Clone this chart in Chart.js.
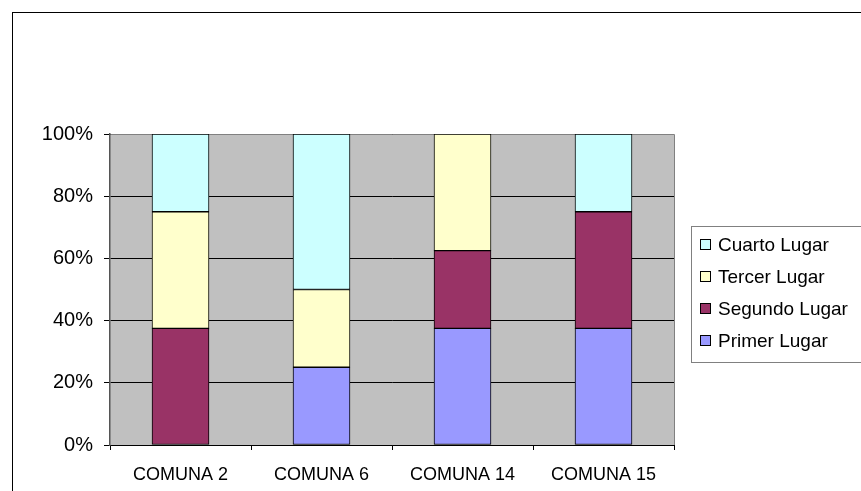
<!DOCTYPE html>
<html>
<head>
<meta charset="utf-8">
<script src="https://cdn.jsdelivr.net/npm/chart.js@4.4.1/dist/chart.umd.min.js"></script>
<style>
  html, body { margin: 0; padding: 0; background: #fff; }
  canvas { display: block; }
</style>
</head>
<body>
<canvas id="chart" width="861" height="491"></canvas>
<script>
// categories and series (percent of each comuna)
const comunas = ['COMUNA 2', 'COMUNA 6', 'COMUNA 14', 'COMUNA 15'];
const primerLugar  = [0, 25, 37.5, 37.5];
const segundoLugar = [37.5, 0, 25, 37.5];
const tercerLugar  = [37.5, 25, 37.5, 0];
const cuartoLugar  = [25, 50, 0, 25];
const yTicks = [0, 20, 40, 60, 80, 100];

const FONT = 'Liberation Sans, Arial, sans-serif';

// gray plot background, outer frame, plot border, legend
const frame = {
  id: 'frame',
  beforeDraw(chart) {
    const { ctx, chartArea: a } = chart;
    ctx.save();
    ctx.fillStyle = '#fff';
    ctx.fillRect(0, 0, chart.width, chart.height);
    ctx.strokeStyle = '#000';
    ctx.lineWidth = 1;
    ctx.strokeRect(12.5, 12.5, 900, 600);
    ctx.fillStyle = '#c0c0c0';
    ctx.fillRect(a.left, a.top, a.right - a.left, a.bottom - a.top);
    ctx.restore();
  },
  beforeDatasetsDraw(chart) {
    const { ctx, chartArea: a } = chart;
    ctx.save();
    ctx.strokeStyle = '#808080';
    ctx.lineWidth = 1;
    ctx.beginPath();
    ctx.moveTo(a.left + 1, a.top + 0.5);
    ctx.lineTo(a.right + 0.5, a.top + 0.5);
    ctx.lineTo(a.right + 0.5, a.bottom);
    ctx.stroke();
    ctx.restore();
  },
  afterDraw(chart) {
    const { ctx } = chart;
    ctx.save();
    ctx.strokeStyle = '#808080';
    ctx.lineWidth = 1;
    ctx.strokeRect(691.5, 226.5, 200, 136);
    ctx.font = '19px ' + FONT;
    ctx.textBaseline = 'middle';
    const ds = chart.data.datasets.slice().reverse();
    ds.forEach((d, i) => {
      const y = 245 + i * 32;
      ctx.fillStyle = d.backgroundColor;
      ctx.fillRect(700.5, y - 5.5, 10, 10);
      ctx.strokeStyle = '#000';
      ctx.strokeRect(700.5, y - 5.5, 10, 10);
      ctx.fillStyle = '#000';
      ctx.fillText(d.label, 718, y + 1);
    });
    ctx.restore();
  }
};

const barStyle = { borderColor: '#000', borderWidth: 1, borderSkipped: false, barThickness: 57 };

new Chart(document.getElementById('chart'), {
  type: 'bar',
  data: {
    labels: comunas,
    datasets: [
      { label: 'Primer Lugar',  data: primerLugar,  backgroundColor: '#9999ff', ...barStyle },
      { label: 'Segundo Lugar', data: segundoLugar, backgroundColor: '#993366', ...barStyle },
      { label: 'Tercer Lugar',  data: tercerLugar,  backgroundColor: '#ffffcc', ...barStyle },
      { label: 'Cuarto Lugar',  data: cuartoLugar,  backgroundColor: '#ccffff', ...barStyle }
    ]
  },
  options: {
    responsive: false,
    animation: false,
    devicePixelRatio: 1,
    layout: { padding: { top: 134, right: 187, left: 0, bottom: 0 } },
    plugins: { legend: { display: false }, tooltip: { enabled: false } },
    scales: {
      x: {
        stacked: true,
        afterFit: s => { s.height = 46; },
        grid: { offset: true, drawOnChartArea: false, color: '#000', tickLength: 5 },
        border: { color: '#000' },
        ticks: { color: '#000', font: { family: FONT, size: 18 }, padding: 14, maxRotation: 0 }
      },
      y: {
        stacked: true,
        min: 0, max: 100,
        afterFit: s => { s.width = 110; },
        afterBuildTicks: s => { s.ticks = yTicks.map(v => ({ value: v })); },
        grid: { color: '#000', tickLength: 6 },
        border: { color: '#555', width: 1.5 },
        ticks: { color: '#000', font: { family: FONT, size: 20 }, padding: 11, callback: v => v + '%' }
      }
    }
  },
  plugins: [frame]
});
</script>
</body>
</html>
